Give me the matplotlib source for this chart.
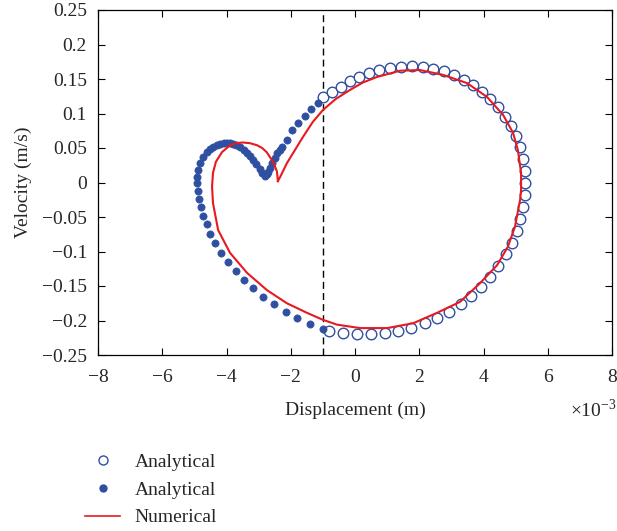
import matplotlib
matplotlib.use("Agg")
import matplotlib.pyplot as plt
from matplotlib.lines import Line2D

plt.rcParams['font.family'] = ['Liberation Serif', 'DejaVu Serif']
plt.rcParams['mathtext.fontset'] = 'custom'
plt.rcParams['mathtext.rm'] = 'Liberation Serif'

# Analytical solution, x > -1e-3 (open circles); displacement in 1e-3 m, velocity in m/s
open_x = [-1.00, -0.72, -0.44, -0.16, 0.13, 0.44, 0.75, 1.09, 1.43, 1.78, 2.12, 2.43, 2.77,
          3.08, 3.39, 3.67, 3.95, 4.20, 4.45, 4.67, 4.86, 5.01, 5.14, 5.23, 5.29, 5.29, 5.29,
          5.23, 5.14, 5.04, 4.89, 4.70, 4.45, 4.20, 3.92, 3.61, 3.30, 2.93, 2.55, 2.18, 1.74,
          1.34, 0.93, 0.50, 0.06, -0.37, -0.81]
open_y = [0.124, 0.131, 0.138, 0.147, 0.153, 0.159, 0.163, 0.166, 0.167, 0.169, 0.167, 0.164,
          0.162, 0.156, 0.149, 0.141, 0.131, 0.121, 0.109, 0.095, 0.082, 0.067, 0.051, 0.034,
          0.017, -0.001, -0.018, -0.035, -0.053, -0.070, -0.088, -0.104, -0.121, -0.137, -0.151,
          -0.164, -0.176, -0.188, -0.196, -0.204, -0.211, -0.215, -0.218, -0.220, -0.220,
          -0.218, -0.215]

# Analytical solution, x < -1e-3 (filled dots)
fill_x = [-1.00, -1.40, -1.81, -2.15, -2.52, -2.86, -3.17, -3.45, -3.70, -3.95, -4.17, -4.36,
          -4.51, -4.61, -4.73, -4.79, -4.86, -4.89, -4.92, -4.92, -4.89, -4.82, -4.73, -4.61,
          -4.52, -4.42, -4.31, -4.20, -4.09, -3.98, -3.89, -3.80, -3.69, -3.58, -3.47, -3.36,
          -3.27, -3.17, -3.07, -2.96, -2.88, -2.80, -2.75, -2.71, -2.64, -2.58, -2.50, -2.43,
          -2.35, -2.27, -2.12, -1.96, -1.77, -1.56, -1.37, -1.15]
fill_y = [-0.212, -0.205, -0.196, -0.188, -0.176, -0.166, -0.153, -0.141, -0.128, -0.115,
          -0.102, -0.088, -0.075, -0.060, -0.049, -0.035, -0.024, -0.012, -0.001, 0.008,
          0.018, 0.028, 0.037, 0.044, 0.048, 0.051, 0.054, 0.056, 0.057, 0.057, 0.057, 0.056,
          0.054, 0.051, 0.047, 0.043, 0.038, 0.033, 0.027, 0.020, 0.014, 0.009, 0.012, 0.015,
          0.021, 0.028, 0.036, 0.043, 0.047, 0.051, 0.062, 0.076, 0.086, 0.096, 0.107, 0.115]

# Numerical solution (red line)
num_x = [-2.40, -2.33, -2.12, -1.87, -1.62, -1.31, -1.00, -0.60, -0.16, 0.25, 0.69, 1.40,
         2.02, 2.74, 3.49, 4.11, 4.61, 4.92, 5.07, 5.17, 5.17, 5.14, 4.98, 4.76, 4.42, 3.89,
         3.27, 2.55, 1.81, 1.00, 0.16, -0.56, -1.00, -1.49, -2.12, -2.74, -3.36, -3.89, -4.26,
         -4.42, -4.45, -4.42, -4.33, -4.14, -3.89, -3.70, -3.50, -3.27, -3.05, -2.89, -2.75,
         -2.65, -2.53, -2.43, -2.40]
num_y = [0.002, 0.008, 0.028, 0.047, 0.066, 0.088, 0.105, 0.121, 0.134, 0.145, 0.153, 0.162,
         0.163, 0.156, 0.144, 0.124, 0.098, 0.072, 0.047, 0.014, -0.011, -0.025, -0.064,
         -0.093, -0.120, -0.146, -0.173, -0.189, -0.204, -0.211, -0.211, -0.206, -0.199,
         -0.189, -0.175, -0.156, -0.131, -0.102, -0.069, -0.030, -0.006, 0.014, 0.030, 0.044,
         0.054, 0.057, 0.058, 0.057, 0.054, 0.050, 0.044, 0.037, 0.028, 0.016, 0.002]

xticks = [-8, -6, -4, -2, 0, 2, 4, 6, 8]
xticklabels = ['\u22128', '\u22126', '\u22124', '\u22122', '0', '2', '4', '6', '8']
yticks = [0.25, 0.2, 0.15, 0.1, 0.05, 0, -0.05, -0.1, -0.15, -0.2, -0.25]
yticklabels = ['0.25', '0.2', '0.15', '0.1', '0.05', '0', '\u22120.05', '\u22120.1',
               '\u22120.15', '\u22120.2', '\u22120.25']
switch_x = -1.0

blue = '#2f4fa0'
red = '#e8191f'
txt = '#262626'

fig = plt.figure(figsize=(6.17, 5.31), dpi=100)
ax = fig.add_axes([98/617, 1-355/531, (612-98)/617, (355-10)/531])

ax.plot(num_x, num_y, color=red, lw=1.5, zorder=3)
ax.plot(open_x, open_y, ls='none', marker='o', ms=7.6, mfc='white', mec=blue, mew=1.0,
        zorder=2)
ax.plot(fill_x, fill_y, ls='none', marker='o', ms=5.2, mfc=blue, mec=blue, mew=0.5, zorder=2)
ax.axvline(switch_x, color='black', ls=(0, (5, 3)), lw=1.0, zorder=1)

ax.set_xlim(-8, 8)
ax.set_ylim(-0.25, 0.25)
ax.set_xticks(xticks)
ax.set_xticklabels(xticklabels)
ax.set_yticks(yticks)
ax.set_yticklabels(yticklabels)
ax.tick_params(axis='both', direction='in', top=True, right=True, length=5, width=0.8,
               labelsize=14, colors='black', labelcolor=txt)
ax.tick_params(axis='y', pad=8)
ax.tick_params(axis='x', pad=10)
for s in ax.spines.values():
    s.set_linewidth(0.9)
ax.set_xlabel('Displacement (m)', fontsize=14, color=txt)
ax.set_ylabel('Velocity (m/s)', fontsize=14, color=txt)
ax.xaxis.set_label_coords(0.5, (355-402)/345)
ax.yaxis.set_label_coords((32-98)/514, 0.5)

fig.text(570/617, 1-417/531, '\u00d710$^{\u22123}$', fontsize=14, color=txt,
         ha='left', va='baseline')

handles = [
    Line2D([], [], ls='none', marker='o', ms=6.5, mfc='white', mec=blue, mew=1.0),
    Line2D([], [], ls='none', marker='o', ms=5, mfc=blue, mec=blue),
    Line2D([], [], color=red, lw=1.2),
]
labels = ['Analytical', 'Analytical', 'Numerical']
fig.legend(handles, labels, loc='upper left', bbox_to_anchor=(85/617, 1-453/531),
           frameon=False, fontsize=14, handlelength=1.8, handletextpad=0.75,
           labelspacing=0.53, borderpad=0, borderaxespad=0, labelcolor=txt)

fig.savefig('out.png', dpi=100)
